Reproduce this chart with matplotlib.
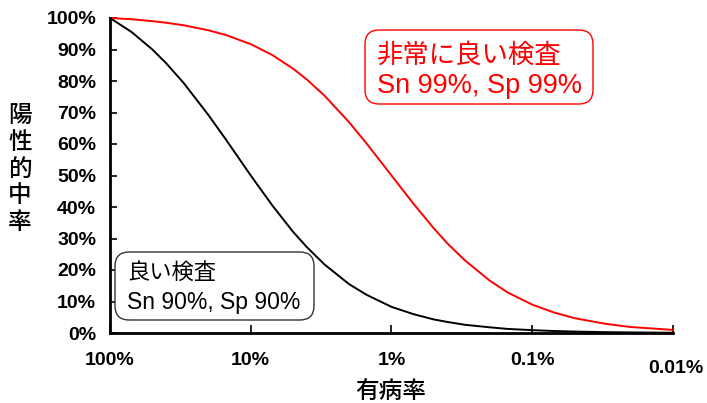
import matplotlib
matplotlib.use("Agg")
import matplotlib.pyplot as plt
from matplotlib.patches import FancyBboxPatch
from matplotlib.transforms import ScaledTranslation

# prevalence (fraction) and positive predictive value
prevalence = [1.0, 0.7, 0.5, 0.4, 0.3, 0.2, 0.15, 0.1, 0.07, 0.05, 0.04, 0.03, 0.02,
              0.015, 0.01, 0.007, 0.005, 0.004, 0.003, 0.002, 0.0015, 0.001,
              0.0007, 0.0005, 0.0003, 0.0002, 0.0001]
ppv_good = [1.000, 0.955, 0.900, 0.857, 0.794, 0.692, 0.614, 0.500, 0.404, 0.321, 0.273,
            0.218, 0.155, 0.121, 0.083, 0.060, 0.043, 0.035, 0.026, 0.018, 0.013, 0.009,
            0.0063, 0.0045, 0.0027, 0.0018, 0.0009]
ppv_very_good = [1.000, 0.996, 0.990, 0.985, 0.977, 0.961, 0.946, 0.917, 0.882, 0.839, 0.805,
                 0.754, 0.669, 0.601, 0.500, 0.411, 0.332, 0.284, 0.230, 0.166, 0.129, 0.090,
                 0.065, 0.047, 0.029, 0.019, 0.0098]

x_ticks = [1.0, 0.1, 0.01, 0.001, 0.0001]
x_tick_labels = ["100%", "10%", "1%", "0.1%", "0.01%"]
y_ticks = [0, 0.1, 0.2, 0.3, 0.4, 0.5, 0.6, 0.7, 0.8, 0.9, 1.0]
y_tick_labels = ["0%", "10%", "20%", "30%", "40%", "50%", "60%", "70%", "80%", "90%", "100%"]

label_good = "良い検査\nSn 90%, Sp 90%"
label_very_good = "非常に良い検査\nSn 99%, Sp 99%"
x_label = "有病率"
y_label = "陽\n性\n的\n中\n率"

fam = ["Liberation Sans", "Noto Sans CJK JP", "DejaVu Sans"]
plt.rcParams["font.family"] = fam

W, H = 707, 403
fig = plt.figure(figsize=(W / 100, H / 100), dpi=100)
ax = fig.add_axes([110 / W, 1 - 333 / H, (673 - 110) / W, (333 - 18) / H])

ax.plot(prevalence, ppv_good, color="black", lw=1.4, clip_on=False)
ax.plot(prevalence, ppv_very_good, color="#ff0000", lw=1.4, clip_on=False)

ax.set_xscale("log")
ax.set_xlim(1.0, 0.0001)
ax.set_ylim(0, 1.0)
ax.minorticks_off()
ax.set_xticks(x_ticks)
ax.set_xticklabels(x_tick_labels, fontsize=14, fontweight="bold")
ax.set_yticks(y_ticks)
ax.set_yticklabels(y_tick_labels, fontsize=14, fontweight="bold")
ax.tick_params(axis="x", direction="in", length=6, width=1.2, pad=14)
ax.tick_params(axis="y", direction="in", length=5, width=1.2, pad=10)
for s in ["top", "right"]:
    ax.spines[s].set_visible(False)
ax.spines["left"].set_linewidth(2)
ax.spines["bottom"].set_linewidth(2)

# last x tick label sits lower in the reference
lbl = ax.get_xticklabels()[-1]
lbl.set_transform(lbl.get_transform() + ScaledTranslation(0.03, -0.08, fig.dpi_scale_trans))

# axis labels
fig.text(391 / W, 1 - 392 / H, x_label, ha="center", va="center", fontsize=17,
         family=["Noto Sans CJK JP"], fontweight="medium")
fig.text(20 / W, 1 - 169 / H, y_label, ha="center", va="center", fontsize=17,
         linespacing=1.2, family=["Noto Sans CJK JP"], fontweight="medium")

# annotation boxes
def box(x0, y0, x1, y1, color):
    p = FancyBboxPatch((x0 / W, 1 - y1 / H), (x1 - x0) / W, (y1 - y0) / H,
                       boxstyle="round,pad=0,rounding_size=0.02",
                       transform=fig.transFigure, fc="white", ec=color, lw=1.0,
                       mutation_aspect=W / H)
    fig.patches.append(p)

box(365, 30, 593, 104, "#ff0000")
box(115, 252, 314, 320, "#333333")

l1, l2 = label_very_good.split("\n")
fig.text(377 / W, 1 - 55 / H, l1, ha="left", va="center", fontsize=19, color="#ff0000",
         family=fam)
fig.text(377 / W, 1 - 86 / H, l2, ha="left", va="center", fontsize=19.5, color="#ff0000",
         family=fam)
g1, g2 = label_good.split("\n")
fig.text(127 / W, 1 - 273 / H, g1, ha="left", va="center", fontsize=16, color="black",
         family=fam)
fig.text(127 / W, 1 - 302 / H, g2, ha="left", va="center", fontsize=16.5, color="black",
         family=fam)

fig.savefig("out.png", dpi=100)
